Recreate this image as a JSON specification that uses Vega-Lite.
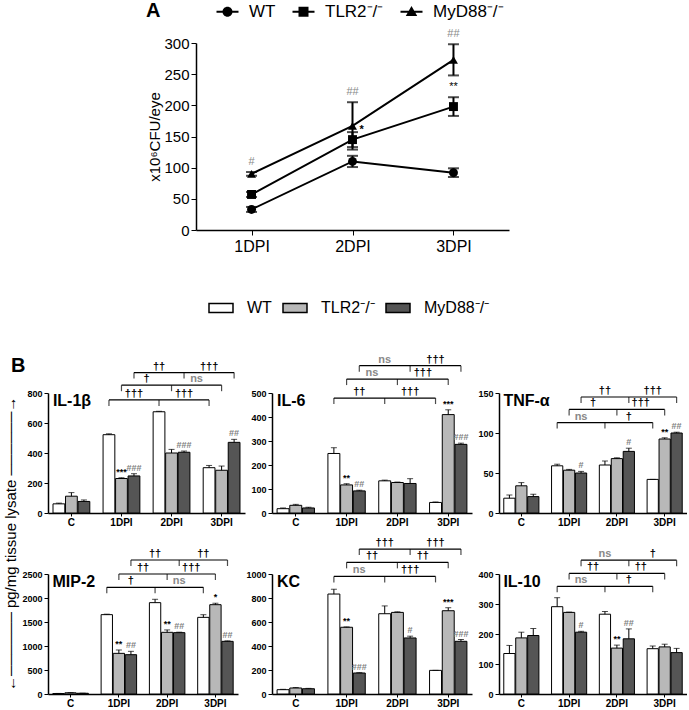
{
"$schema":"https://vega.github.io/schema/vega-lite/v6.json",
"padding":{"left":3,"top":3,"right":0,"bottom":0},
"config":{"font":"Liberation Sans","view":{"stroke":null},
 "axis":{"domainColor":"black","tickColor":"black","labelColor":"black","titleColor":"black","grid":false,"labelFontSize":9,"labelFontWeight":"bold","tickSize":4,"domainWidth":1.5,"labelPadding":2,"labelOverlap":false},
 "axisX":{"labelAngle":0,"labelFontSize":10,"tickSize":3,"labelPadding":1},
 "legend":{"labelColor":"black","padding":0},
 "title":{"color":"black"}},
"datasets":{
"ptA":[
{"d":"1DPI","g":"WT","v":33,"lo":29,"hi":37,"s":""},
{"d":"2DPI","g":"WT","v":110,"lo":101,"hi":119,"s":""},
{"d":"3DPI","g":"WT","v":92,"lo":85,"hi":99,"s":""},
{"d":"1DPI","g":"TLR2","v":57,"lo":53,"hi":61,"s":""},
{"d":"2DPI","g":"TLR2","v":145,"lo":133,"hi":157,"s":"*"},
{"d":"3DPI","g":"TLR2","v":198,"lo":183,"hi":213,"s":"**"},
{"d":"1DPI","g":"MyD88","v":90,"lo":87,"hi":93,"s":"#"},
{"d":"2DPI","g":"MyD88","v":167,"lo":129,"hi":205,"s":"##"},
{"d":"3DPI","g":"MyD88","v":273,"lo":248,"hi":298,"s":"##"}
],
"bars":[
{"p":"IL-1β","k":"C|WT","g":"WT","v":61,"hi":66,"s":""},
{"p":"IL-1β","k":"C|TLR2","g":"TLR2","v":112,"hi":136,"s":""},
{"p":"IL-1β","k":"C|MyD88","g":"MyD88","v":77,"hi":87,"s":""},
{"p":"IL-1β","k":"1DPI|WT","g":"WT","v":522,"hi":528,"s":""},
{"p":"IL-1β","k":"1DPI|TLR2","g":"TLR2","v":230,"hi":235,"s":"***"},
{"p":"IL-1β","k":"1DPI|MyD88","g":"MyD88","v":247,"hi":262,"s":"###"},
{"p":"IL-1β","k":"2DPI|WT","g":"WT","v":675,"hi":678,"s":""},
{"p":"IL-1β","k":"2DPI|TLR2","g":"TLR2","v":400,"hi":424,"s":""},
{"p":"IL-1β","k":"2DPI|MyD88","g":"MyD88","v":405,"hi":413,"s":"###"},
{"p":"IL-1β","k":"3DPI|WT","g":"WT","v":302,"hi":317,"s":""},
{"p":"IL-1β","k":"3DPI|TLR2","g":"TLR2","v":285,"hi":313,"s":""},
{"p":"IL-1β","k":"3DPI|MyD88","g":"MyD88","v":471,"hi":491,"s":"##"},
{"p":"IL-6","k":"C|WT","g":"WT","v":18,"hi":21,"s":""},
{"p":"IL-6","k":"C|TLR2","g":"TLR2","v":32,"hi":36,"s":""},
{"p":"IL-6","k":"C|MyD88","g":"MyD88","v":21,"hi":24,"s":""},
{"p":"IL-6","k":"1DPI|WT","g":"WT","v":248,"hi":272,"s":""},
{"p":"IL-6","k":"1DPI|TLR2","g":"TLR2","v":117,"hi":122,"s":"**"},
{"p":"IL-6","k":"1DPI|MyD88","g":"MyD88","v":92,"hi":95,"s":"##"},
{"p":"IL-6","k":"2DPI|WT","g":"WT","v":134,"hi":137,"s":""},
{"p":"IL-6","k":"2DPI|TLR2","g":"TLR2","v":127,"hi":129,"s":""},
{"p":"IL-6","k":"2DPI|MyD88","g":"MyD88","v":123,"hi":143,"s":""},
{"p":"IL-6","k":"3DPI|WT","g":"WT","v":44,"hi":46,"s":""},
{"p":"IL-6","k":"3DPI|TLR2","g":"TLR2","v":410,"hi":430,"s":"***"},
{"p":"IL-6","k":"3DPI|MyD88","g":"MyD88","v":286,"hi":291,"s":"###"},
{"p":"TNF-α","k":"C|WT","g":"WT","v":18.5,"hi":22.5,"s":""},
{"p":"TNF-α","k":"C|TLR2","g":"TLR2","v":34,"hi":38,"s":""},
{"p":"TNF-α","k":"C|MyD88","g":"MyD88","v":20.5,"hi":23.5,"s":""},
{"p":"TNF-α","k":"1DPI|WT","g":"WT","v":59,"hi":61,"s":""},
{"p":"TNF-α","k":"1DPI|TLR2","g":"TLR2","v":53.5,"hi":54.5,"s":""},
{"p":"TNF-α","k":"1DPI|MyD88","g":"MyD88","v":50,"hi":52,"s":"#"},
{"p":"TNF-α","k":"2DPI|WT","g":"WT","v":60,"hi":65,"s":""},
{"p":"TNF-α","k":"2DPI|TLR2","g":"TLR2","v":68,"hi":69,"s":""},
{"p":"TNF-α","k":"2DPI|MyD88","g":"MyD88","v":77,"hi":81,"s":"#"},
{"p":"TNF-α","k":"3DPI|WT","g":"WT","v":42,"hi":42,"s":""},
{"p":"TNF-α","k":"3DPI|TLR2","g":"TLR2","v":92.5,"hi":94,"s":"**"},
{"p":"TNF-α","k":"3DPI|MyD88","g":"MyD88","v":100,"hi":101,"s":"##"},
{"p":"MIP-2","k":"C|WT","g":"WT","v":10,"hi":12,"s":""},
{"p":"MIP-2","k":"C|TLR2","g":"TLR2","v":25,"hi":28,"s":""},
{"p":"MIP-2","k":"C|MyD88","g":"MyD88","v":15,"hi":17,"s":""},
{"p":"MIP-2","k":"1DPI|WT","g":"WT","v":1653,"hi":1663,"s":""},
{"p":"MIP-2","k":"1DPI|TLR2","g":"TLR2","v":847,"hi":917,"s":"**"},
{"p":"MIP-2","k":"1DPI|MyD88","g":"MyD88","v":819,"hi":889,"s":"##"},
{"p":"MIP-2","k":"2DPI|WT","g":"WT","v":1903,"hi":1973,"s":""},
{"p":"MIP-2","k":"2DPI|TLR2","g":"TLR2","v":1285,"hi":1335,"s":"**"},
{"p":"MIP-2","k":"2DPI|MyD88","g":"MyD88","v":1278,"hi":1288,"s":"##"},
{"p":"MIP-2","k":"3DPI|WT","g":"WT","v":1597,"hi":1652,"s":""},
{"p":"MIP-2","k":"3DPI|TLR2","g":"TLR2","v":1861,"hi":1891,"s":"*"},
{"p":"MIP-2","k":"3DPI|MyD88","g":"MyD88","v":1097,"hi":1107,"s":"##"},
{"p":"KC","k":"C|WT","g":"WT","v":36,"hi":39,"s":""},
{"p":"KC","k":"C|TLR2","g":"TLR2","v":50,"hi":54,"s":""},
{"p":"KC","k":"C|MyD88","g":"MyD88","v":44,"hi":47,"s":""},
{"p":"KC","k":"1DPI|WT","g":"WT","v":833,"hi":873,"s":""},
{"p":"KC","k":"1DPI|TLR2","g":"TLR2","v":556,"hi":559,"s":"**"},
{"p":"KC","k":"1DPI|MyD88","g":"MyD88","v":175,"hi":178,"s":"###"},
{"p":"KC","k":"2DPI|WT","g":"WT","v":669,"hi":734,"s":""},
{"p":"KC","k":"2DPI|TLR2","g":"TLR2","v":680,"hi":685,"s":""},
{"p":"KC","k":"2DPI|MyD88","g":"MyD88","v":467,"hi":482,"s":"#"},
{"p":"KC","k":"3DPI|WT","g":"WT","v":197,"hi":197,"s":""},
{"p":"KC","k":"3DPI|TLR2","g":"TLR2","v":694,"hi":719,"s":"***"},
{"p":"KC","k":"3DPI|MyD88","g":"MyD88","v":439,"hi":454,"s":"###"},
{"p":"IL-10","k":"C|WT","g":"WT","v":135,"hi":162,"s":""},
{"p":"IL-10","k":"C|TLR2","g":"TLR2","v":187,"hi":206,"s":""},
{"p":"IL-10","k":"C|MyD88","g":"MyD88","v":195,"hi":218,"s":""},
{"p":"IL-10","k":"1DPI|WT","g":"WT","v":291,"hi":321,"s":""},
{"p":"IL-10","k":"1DPI|TLR2","g":"TLR2","v":272,"hi":273,"s":""},
{"p":"IL-10","k":"1DPI|MyD88","g":"MyD88","v":206,"hi":209,"s":"#"},
{"p":"IL-10","k":"2DPI|WT","g":"WT","v":266,"hi":275,"s":""},
{"p":"IL-10","k":"2DPI|TLR2","g":"TLR2","v":153,"hi":163,"s":"**"},
{"p":"IL-10","k":"2DPI|MyD88","g":"MyD88","v":184,"hi":217,"s":"##"},
{"p":"IL-10","k":"3DPI|WT","g":"WT","v":151,"hi":160,"s":""},
{"p":"IL-10","k":"3DPI|TLR2","g":"TLR2","v":157,"hi":166,"s":""},
{"p":"IL-10","k":"3DPI|MyD88","g":"MyD88","v":138,"hi":152,"s":""}
],
"brk":[
{"p":"IL-1β","g":"WT","y":754,"a":"1DPI|WT","m":"2DPI|WT","b":"3DPI|WT","l":"†††","lx":"1DPI|MyD88","r":"†††","rx":"2DPI|MyD88"},
{"p":"IL-1β","g":"TLR2","y":852,"a":"1DPI|TLR2","m":"2DPI|TLR2","b":"3DPI|TLR2","l":"†","lx":"s2","r":"ns","rx":"s3"},
{"p":"IL-1β","g":"MyD88","y":936,"a":"1DPI|MyD88","m":"2DPI|MyD88","b":"3DPI|MyD88","l":"††","lx":"2DPI|WT","r":"†††","rx":"3DPI|WT"},
{"p":"IL-6","g":"WT","y":479,"a":"1DPI|WT","m":"2DPI|WT","b":"3DPI|WT","l":"††","lx":"1DPI|MyD88","r":"†††","rx":"2DPI|MyD88"},
{"p":"IL-6","g":"TLR2","y":558,"a":"1DPI|TLR2","m":"2DPI|TLR2","b":"3DPI|TLR2","l":"ns","lx":"s2","r":"†††","rx":"s3"},
{"p":"IL-6","g":"MyD88","y":614,"a":"1DPI|MyD88","m":"2DPI|MyD88","b":"3DPI|MyD88","l":"ns","lx":"2DPI|WT","r":"†††","rx":"3DPI|WT"},
{"p":"TNF-α","g":"WT","y":113,"a":"1DPI|WT","m":"2DPI|WT","b":"3DPI|WT","l":"ns","lx":"1DPI|MyD88","r":"†","rx":"2DPI|MyD88"},
{"p":"TNF-α","g":"TLR2","y":129.5,"a":"1DPI|TLR2","m":"2DPI|TLR2","b":"3DPI|TLR2","l":"†","lx":"s2","r":"†††","rx":"s3"},
{"p":"TNF-α","g":"MyD88","y":145,"a":"1DPI|MyD88","m":"2DPI|MyD88","b":"3DPI|MyD88","l":"††","lx":"2DPI|WT","r":"†††","rx":"3DPI|WT"},
{"p":"MIP-2","g":"WT","y":2222,"a":"1DPI|WT","m":"2DPI|WT","b":"3DPI|WT","l":"†","lx":"1DPI|MyD88","r":"ns","rx":"2DPI|MyD88"},
{"p":"MIP-2","g":"TLR2","y":2500,"a":"1DPI|TLR2","m":"2DPI|TLR2","b":"3DPI|TLR2","l":"††","lx":"s2","r":"†††","rx":"s3"},
{"p":"MIP-2","g":"MyD88","y":2792,"a":"1DPI|MyD88","m":"2DPI|MyD88","b":"3DPI|MyD88","l":"††","lx":"2DPI|WT","r":"††","rx":"3DPI|WT"},
{"p":"KC","g":"WT","y":980,"a":"1DPI|WT","m":"2DPI|WT","b":"3DPI|WT","l":"ns","lx":"1DPI|MyD88","r":"†††","rx":"2DPI|MyD88"},
{"p":"KC","g":"TLR2","y":1097,"a":"1DPI|TLR2","m":"2DPI|TLR2","b":"3DPI|TLR2","l":"††","lx":"s2","r":"††","rx":"s3"},
{"p":"KC","g":"MyD88","y":1208,"a":"1DPI|MyD88","m":"2DPI|MyD88","b":"3DPI|MyD88","l":"†††","lx":"2DPI|WT","r":"†††","rx":"3DPI|WT"},
{"p":"IL-10","g":"WT","y":359,"a":"1DPI|WT","m":"2DPI|WT","b":"3DPI|WT","l":"ns","lx":"1DPI|MyD88","r":"†","rx":"2DPI|MyD88"},
{"p":"IL-10","g":"TLR2","y":402,"a":"1DPI|TLR2","m":"2DPI|TLR2","b":"3DPI|TLR2","l":"††","lx":"s2","r":"††","rx":"s3"},
{"p":"IL-10","g":"MyD88","y":446,"a":"1DPI|MyD88","m":"2DPI|MyD88","b":"3DPI|MyD88","l":"ns","lx":"2DPI|WT","r":"†","rx":"3DPI|WT"}
]
},
"resolve":{"scale":{"fill":"independent","shape":"independent"},"legend":{"fill":"independent","shape":"independent"}},
"spacing":43,
"vconcat":[
{"hconcat":[
{"width":98,"height":10,"data":{"values":[]},"mark":{"type":"rule","opacity":0},"encoding":{}},
{
"width":313,"height":187,
"data":{"name":"ptA"},
"resolve":{"scale":{"shape":"independent"},"legend":{"shape":"independent"}},
"layer":[
 {"mark":{"type":"line","color":"black","strokeWidth":2},
  "encoding":{
   "x":{"field":"d","type":"ordinal","scale":{"type":"point","padding":0.55,"domain":["1DPI","2DPI","3DPI"]},"title":null,"axis":{"labelFontSize":16,"labelFontWeight":"normal","tickSize":5,"labelPadding":3}},
   "y":{"field":"v","type":"quantitative","scale":{"domain":[0,300],"nice":false},"title":"x10⁶CFU/eye","axis":{"values":[0,50,100,150,200,250,300],"tickCount":20,"labelOverlap":false,"labelFontSize":15,"labelFontWeight":"normal","tickSize":5,"labelPadding":2,"titleFontSize":15,"titleFontWeight":"normal","titlePadding":1}},
   "detail":{"field":"g"}}},
 {"mark":{"type":"rule","color":"black","strokeWidth":2},
  "encoding":{
   "x":{"field":"d","type":"ordinal","scale":{"type":"point","padding":0.55,"domain":["1DPI","2DPI","3DPI"]},"title":null},
   "y":{"field":"lo","type":"quantitative","scale":{"domain":[0,300],"nice":false},"title":"x10⁶CFU/eye"},
   "y2":{"field":"hi"}}},
 {"transform":[{"fold":["lo","hi"],"as":["c","cv"]}],
  "mark":{"type":"tick","color":"black","size":11,"thickness":2,"orient":"horizontal"},
  "encoding":{
   "x":{"field":"d","type":"ordinal","scale":{"type":"point","padding":0.55,"domain":["1DPI","2DPI","3DPI"]},"title":null},
   "y":{"field":"cv","type":"quantitative","scale":{"domain":[0,300],"nice":false},"title":"x10⁶CFU/eye"}}},
 {"mark":{"type":"point","filled":true,"color":"black","opacity":1,"size":80},
  "encoding":{
   "x":{"field":"d","type":"ordinal","scale":{"type":"point","padding":0.55,"domain":["1DPI","2DPI","3DPI"]},"title":null},
   "y":{"field":"v","type":"quantitative","scale":{"domain":[0,300],"nice":false},"title":"x10⁶CFU/eye"},
   "shape":{"field":"g","type":"nominal","scale":{"domain":["WT","TLR2","MyD88"],"range":["circle","square","triangle-up"]},"legend":null}}},
 {"mark":{"type":"point","filled":true,"color":"black","opacity":0,"size":10},
  "encoding":{
   "x":{"field":"d","type":"ordinal","scale":{"type":"point","padding":0.55,"domain":["1DPI","2DPI","3DPI"]},"title":null},
   "y":{"field":"v","type":"quantitative","scale":{"domain":[0,300],"nice":false},"title":"x10⁶CFU/eye"},
   "shape":{"field":"g","type":"nominal","scale":{"domain":["WT","TLR2","MyD88"],"range":["M-2.2,-0.2H2.2V0.2H-2.2ZM1,0A1,1,0,1,1,-1,0A1,1,0,1,1,1,0Z","M-2.2,-0.2H2.2V0.2H-2.2ZM-1,-1H1V1H-1Z","M-2.2,-0.2H2.2V0.2H-2.2ZM0,-1.15L1.15,0.85H-1.15Z"]},
    "legend":{"orient":"none","legendX":-50,"legendY":-40,"direction":"horizontal","title":"A","titleOrient":"left","titleFontSize":20,"titleFontWeight":"bold","titlePadding":58,"labelFontSize":17,"symbolSize":100,"symbolOpacity":1,"symbolFillColor":"black","symbolStrokeWidth":0,"labelOffset":13,"columnPadding":16,
     "labelExpr":"datum.label=='WT'?'WT':datum.label+'⁻/⁻'"}}}},
 {"transform":[{"filter":"datum.s!='' && !(datum.g=='TLR2' && datum.d=='2DPI')"}],
  "mark":{"type":"text","baseline":"bottom","dy":-5,"fontSize":11,"opacity":0.99},
  "encoding":{
   "x":{"field":"d","type":"ordinal","scale":{"type":"point","padding":0.55,"domain":["1DPI","2DPI","3DPI"]},"title":null},
   "y":{"field":"hi","type":"quantitative","scale":{"domain":[0,300],"nice":false},"title":"x10⁶CFU/eye"},
   "text":{"field":"s"},
   "color":{"condition":{"test":"indexof(datum.s,'#')>=0","value":"#888888"},"value":"black"}}},
 {"transform":[{"filter":"datum.g=='TLR2' && datum.d=='2DPI'"}],
  "mark":{"type":"text","align":"left","baseline":"middle","dx":7,"dy":-2,"fontSize":11,"fontWeight":"bold"},
  "encoding":{
   "x":{"field":"d","type":"ordinal","scale":{"type":"point","padding":0.55,"domain":["1DPI","2DPI","3DPI"]},"title":null},
   "y":{"field":"hi","type":"quantitative","scale":{"domain":[0,300],"nice":false},"title":"x10⁶CFU/eye"},
   "text":{"field":"s"}}}
]
}],
"spacing":0,
"resolve":{"legend":{"shape":"independent"},"scale":{"shape":"independent"}}
},
{
"title":{"text":"←────── pg/mg tissue lysate ──────→","orient":"left","fontSize":15,"fontWeight":"normal","offset":-8,"dx":17},
"resolve":{"scale":{"fill":"shared"},"legend":{"fill":"shared"}},
"vconcat":[
{
"title":{"text":"B","orient":"top","anchor":"start","fontSize":20,"fontWeight":"bold","offset":-22,"dx":-11},
"columns":3,"bounds":"flush","spacing":{"row":61,"column":27},
"resolve":{"scale":{"fill":"shared"},"legend":{"fill":"shared"}},
"concat":[
{"width":197,"height":120,"layer":[
 {"data":{"name":"bars"},"transform":[{"filter":"datum.p=='IL-1β'"}],"layer":[
  {"mark":{"type":"bar","stroke":"black","strokeWidth":1},"encoding":{
   "x":{"field":"k","type":"nominal","title":null,"scale":{"domain":["C|WT","C|TLR2","C|MyD88","s1","1DPI|WT","1DPI|TLR2","1DPI|MyD88","s2","2DPI|WT","2DPI|TLR2","2DPI|MyD88","s3","3DPI|WT","3DPI|TLR2","3DPI|MyD88"],"paddingInner":0.06,"paddingOuter":0.4},"axis":{"values":["C|TLR2","1DPI|TLR2","2DPI|TLR2","3DPI|TLR2"],"labelExpr":"split(datum.value,'|')[0]"}},
   "y":{"field":"v","type":"quantitative","title":null,"scale":{"domain":[0,800],"nice":false},"axis":{"values":[0,200,400,600,800],"tickCount":20,"labelOverlap":false}},
   "fill":{"field":"g","type":"nominal","scale":{"domain":["WT","TLR2","MyD88"],"range":["#ffffff","#b8b8b8","#555555"]},
    "legend":{"orient":"none","legendX":162,"legendY":-96,"direction":"horizontal","title":null,"symbolType":"M-1.2,-0.45H1.2V0.45H-1.2Z","symbolSize":400,"symbolStrokeColor":"black","symbolStrokeWidth":1.5,"labelFontSize":16,"labelOffset":15,"columnPadding":8,"labelExpr":"datum.label=='WT'?'WT':datum.label+'⁻/⁻'"}}}},
  {"mark":{"type":"rule","color":"black","strokeWidth":1},"encoding":{
   "x":{"field":"k","type":"nominal","title":null,"scale":{"domain":["C|WT","C|TLR2","C|MyD88","s1","1DPI|WT","1DPI|TLR2","1DPI|MyD88","s2","2DPI|WT","2DPI|TLR2","2DPI|MyD88","s3","3DPI|WT","3DPI|TLR2","3DPI|MyD88"],"paddingInner":0.06,"paddingOuter":0.4}},
   "y":{"field":"v","type":"quantitative","title":null,"scale":{"domain":[0,800],"nice":false}},"y2":{"field":"hi"}}},
  {"mark":{"type":"tick","color":"black","size":6,"thickness":1,"orient":"horizontal"},"encoding":{
   "x":{"field":"k","type":"nominal","title":null,"scale":{"domain":["C|WT","C|TLR2","C|MyD88","s1","1DPI|WT","1DPI|TLR2","1DPI|MyD88","s2","2DPI|WT","2DPI|TLR2","2DPI|MyD88","s3","3DPI|WT","3DPI|TLR2","3DPI|MyD88"],"paddingInner":0.06,"paddingOuter":0.4}},
   "y":{"field":"hi","type":"quantitative","title":null,"scale":{"domain":[0,800],"nice":false}}}},
  {"transform":[{"filter":"datum.s!=''"}],"mark":{"type":"text","baseline":"bottom","dy":-1,"fontSize":9,"fontWeight":"bold","opacity":0.99},"encoding":{
   "x":{"field":"k","type":"nominal","title":null,"scale":{"domain":["C|WT","C|TLR2","C|MyD88","s1","1DPI|WT","1DPI|TLR2","1DPI|MyD88","s2","2DPI|WT","2DPI|TLR2","2DPI|MyD88","s3","3DPI|WT","3DPI|TLR2","3DPI|MyD88"],"paddingInner":0.06,"paddingOuter":0.4}},
   "y":{"field":"hi","type":"quantitative","title":null,"scale":{"domain":[0,800],"nice":false}},
   "text":{"field":"s"},"color":{"condition":{"test":"indexof(datum.s,'#')>=0","value":"#808080"},"value":"black"}}}
 ]},
 {"data":{"name":"brk"},"transform":[{"filter":"datum.p=='IL-1β'"}],"layer":[
  {"mark":{"type":"rule","color":"black","strokeWidth":1.2},"encoding":{
   "x":{"field":"a","type":"nominal","title":null,"scale":{"domain":["C|WT","C|TLR2","C|MyD88","s1","1DPI|WT","1DPI|TLR2","1DPI|MyD88","s2","2DPI|WT","2DPI|TLR2","2DPI|MyD88","s3","3DPI|WT","3DPI|TLR2","3DPI|MyD88"],"paddingInner":0.06,"paddingOuter":0.4}},"x2":{"field":"b"},
   "y":{"field":"y","type":"quantitative","title":null,"scale":{"domain":[0,800],"nice":false}}}},
  {"transform":[{"fold":["a","m","b"]}],"mark":{"type":"tick","color":"black","orient":"vertical","size":6,"thickness":1.2,"yOffset":3},"encoding":{
   "x":{"field":"value","type":"nominal","title":null,"scale":{"domain":["C|WT","C|TLR2","C|MyD88","s1","1DPI|WT","1DPI|TLR2","1DPI|MyD88","s2","2DPI|WT","2DPI|TLR2","2DPI|MyD88","s3","3DPI|WT","3DPI|TLR2","3DPI|MyD88"],"paddingInner":0.06,"paddingOuter":0.4}},
   "y":{"field":"y","type":"quantitative","title":null,"scale":{"domain":[0,800],"nice":false}}}},
  {"mark":{"type":"text","baseline":"bottom","dy":-1,"fontSize":11,"fontWeight":"bold","opacity":0.99},"encoding":{
   "x":{"field":"lx","type":"nominal","title":null,"scale":{"domain":["C|WT","C|TLR2","C|MyD88","s1","1DPI|WT","1DPI|TLR2","1DPI|MyD88","s2","2DPI|WT","2DPI|TLR2","2DPI|MyD88","s3","3DPI|WT","3DPI|TLR2","3DPI|MyD88"],"paddingInner":0.06,"paddingOuter":0.4}},
   "y":{"field":"y","type":"quantitative","title":null,"scale":{"domain":[0,800],"nice":false}},
   "text":{"field":"l"},"color":{"condition":{"test":"datum.l=='ns'","value":"#888888"},"value":"black"}}},
  {"mark":{"type":"text","baseline":"bottom","dy":-1,"fontSize":11,"fontWeight":"bold","opacity":0.99},"encoding":{
   "x":{"field":"rx","type":"nominal","title":null,"scale":{"domain":["C|WT","C|TLR2","C|MyD88","s1","1DPI|WT","1DPI|TLR2","1DPI|MyD88","s2","2DPI|WT","2DPI|TLR2","2DPI|MyD88","s3","3DPI|WT","3DPI|TLR2","3DPI|MyD88"],"paddingInner":0.06,"paddingOuter":0.4}},
   "y":{"field":"y","type":"quantitative","title":null,"scale":{"domain":[0,800],"nice":false}},
   "text":{"field":"r"},"color":{"condition":{"test":"datum.r=='ns'","value":"#888888"},"value":"black"}}}
 ]},
 {"data":{"values":[{"n":"IL-1β"}]},"mark":{"type":"text","align":"left","baseline":"top","fontSize":16,"fontWeight":"bold","dx":-6},"encoding":{
   "x":{"datum":"C|WT","type":"nominal","title":null,"scale":{"domain":["C|WT","C|TLR2","C|MyD88","s1","1DPI|WT","1DPI|TLR2","1DPI|MyD88","s2","2DPI|WT","2DPI|TLR2","2DPI|MyD88","s3","3DPI|WT","3DPI|TLR2","3DPI|MyD88"],"paddingInner":0.06,"paddingOuter":0.4}},
   "y":{"datum":800,"type":"quantitative","title":null,"scale":{"domain":[0,800],"nice":false}},
   "text":{"field":"n"}}}
]},
{"width":200,"height":120,"layer":[
 {"data":{"name":"bars"},"transform":[{"filter":"datum.p=='IL-6'"}],"layer":[
  {"mark":{"type":"bar","stroke":"black","strokeWidth":1},"encoding":{
   "x":{"field":"k","type":"nominal","title":null,"scale":{"domain":["C|WT","C|TLR2","C|MyD88","s1","1DPI|WT","1DPI|TLR2","1DPI|MyD88","s2","2DPI|WT","2DPI|TLR2","2DPI|MyD88","s3","3DPI|WT","3DPI|TLR2","3DPI|MyD88"],"paddingInner":0.06,"paddingOuter":0.4},"axis":{"values":["C|TLR2","1DPI|TLR2","2DPI|TLR2","3DPI|TLR2"],"labelExpr":"split(datum.value,'|')[0]"}},
   "y":{"field":"v","type":"quantitative","title":null,"scale":{"domain":[0,500],"nice":false},"axis":{"values":[0,100,200,300,400,500],"tickCount":20,"labelOverlap":false}},
   "fill":{"field":"g","type":"nominal","scale":{"domain":["WT","TLR2","MyD88"],"range":["#ffffff","#b8b8b8","#555555"]}}}},
  {"mark":{"type":"rule","color":"black","strokeWidth":1},"encoding":{
   "x":{"field":"k","type":"nominal","title":null,"scale":{"domain":["C|WT","C|TLR2","C|MyD88","s1","1DPI|WT","1DPI|TLR2","1DPI|MyD88","s2","2DPI|WT","2DPI|TLR2","2DPI|MyD88","s3","3DPI|WT","3DPI|TLR2","3DPI|MyD88"],"paddingInner":0.06,"paddingOuter":0.4}},
   "y":{"field":"v","type":"quantitative","title":null,"scale":{"domain":[0,500],"nice":false}},"y2":{"field":"hi"}}},
  {"mark":{"type":"tick","color":"black","size":6,"thickness":1,"orient":"horizontal"},"encoding":{
   "x":{"field":"k","type":"nominal","title":null,"scale":{"domain":["C|WT","C|TLR2","C|MyD88","s1","1DPI|WT","1DPI|TLR2","1DPI|MyD88","s2","2DPI|WT","2DPI|TLR2","2DPI|MyD88","s3","3DPI|WT","3DPI|TLR2","3DPI|MyD88"],"paddingInner":0.06,"paddingOuter":0.4}},
   "y":{"field":"hi","type":"quantitative","title":null,"scale":{"domain":[0,500],"nice":false}}}},
  {"transform":[{"filter":"datum.s!=''"}],"mark":{"type":"text","baseline":"bottom","dy":-1,"fontSize":9,"fontWeight":"bold","opacity":0.99},"encoding":{
   "x":{"field":"k","type":"nominal","title":null,"scale":{"domain":["C|WT","C|TLR2","C|MyD88","s1","1DPI|WT","1DPI|TLR2","1DPI|MyD88","s2","2DPI|WT","2DPI|TLR2","2DPI|MyD88","s3","3DPI|WT","3DPI|TLR2","3DPI|MyD88"],"paddingInner":0.06,"paddingOuter":0.4}},
   "y":{"field":"hi","type":"quantitative","title":null,"scale":{"domain":[0,500],"nice":false}},
   "text":{"field":"s"},"color":{"condition":{"test":"indexof(datum.s,'#')>=0","value":"#808080"},"value":"black"}}}
 ]},
 {"data":{"name":"brk"},"transform":[{"filter":"datum.p=='IL-6'"}],"layer":[
  {"mark":{"type":"rule","color":"black","strokeWidth":1.2},"encoding":{
   "x":{"field":"a","type":"nominal","title":null,"scale":{"domain":["C|WT","C|TLR2","C|MyD88","s1","1DPI|WT","1DPI|TLR2","1DPI|MyD88","s2","2DPI|WT","2DPI|TLR2","2DPI|MyD88","s3","3DPI|WT","3DPI|TLR2","3DPI|MyD88"],"paddingInner":0.06,"paddingOuter":0.4}},"x2":{"field":"b"},
   "y":{"field":"y","type":"quantitative","title":null,"scale":{"domain":[0,500],"nice":false}}}},
  {"transform":[{"fold":["a","m","b"]}],"mark":{"type":"tick","color":"black","orient":"vertical","size":6,"thickness":1.2,"yOffset":3},"encoding":{
   "x":{"field":"value","type":"nominal","title":null,"scale":{"domain":["C|WT","C|TLR2","C|MyD88","s1","1DPI|WT","1DPI|TLR2","1DPI|MyD88","s2","2DPI|WT","2DPI|TLR2","2DPI|MyD88","s3","3DPI|WT","3DPI|TLR2","3DPI|MyD88"],"paddingInner":0.06,"paddingOuter":0.4}},
   "y":{"field":"y","type":"quantitative","title":null,"scale":{"domain":[0,500],"nice":false}}}},
  {"mark":{"type":"text","baseline":"bottom","dy":-1,"fontSize":11,"fontWeight":"bold","opacity":0.99},"encoding":{
   "x":{"field":"lx","type":"nominal","title":null,"scale":{"domain":["C|WT","C|TLR2","C|MyD88","s1","1DPI|WT","1DPI|TLR2","1DPI|MyD88","s2","2DPI|WT","2DPI|TLR2","2DPI|MyD88","s3","3DPI|WT","3DPI|TLR2","3DPI|MyD88"],"paddingInner":0.06,"paddingOuter":0.4}},
   "y":{"field":"y","type":"quantitative","title":null,"scale":{"domain":[0,500],"nice":false}},
   "text":{"field":"l"},"color":{"condition":{"test":"datum.l=='ns'","value":"#888888"},"value":"black"}}},
  {"mark":{"type":"text","baseline":"bottom","dy":-1,"fontSize":11,"fontWeight":"bold","opacity":0.99},"encoding":{
   "x":{"field":"rx","type":"nominal","title":null,"scale":{"domain":["C|WT","C|TLR2","C|MyD88","s1","1DPI|WT","1DPI|TLR2","1DPI|MyD88","s2","2DPI|WT","2DPI|TLR2","2DPI|MyD88","s3","3DPI|WT","3DPI|TLR2","3DPI|MyD88"],"paddingInner":0.06,"paddingOuter":0.4}},
   "y":{"field":"y","type":"quantitative","title":null,"scale":{"domain":[0,500],"nice":false}},
   "text":{"field":"r"},"color":{"condition":{"test":"datum.r=='ns'","value":"#888888"},"value":"black"}}}
 ]},
 {"data":{"values":[{"n":"IL-6"}]},"mark":{"type":"text","align":"left","baseline":"top","fontSize":16,"fontWeight":"bold","dx":-6},"encoding":{
   "x":{"datum":"C|WT","type":"nominal","title":null,"scale":{"domain":["C|WT","C|TLR2","C|MyD88","s1","1DPI|WT","1DPI|TLR2","1DPI|MyD88","s2","2DPI|WT","2DPI|TLR2","2DPI|MyD88","s3","3DPI|WT","3DPI|TLR2","3DPI|MyD88"],"paddingInner":0.06,"paddingOuter":0.4}},
   "y":{"datum":500,"type":"quantitative","title":null,"scale":{"domain":[0,500],"nice":false}},
   "text":{"field":"n"}}}
]},
{"width":188,"height":120,"layer":[
 {"data":{"name":"bars"},"transform":[{"filter":"datum.p=='TNF-α'"}],"layer":[
  {"mark":{"type":"bar","stroke":"black","strokeWidth":1},"encoding":{
   "x":{"field":"k","type":"nominal","title":null,"scale":{"domain":["C|WT","C|TLR2","C|MyD88","s1","1DPI|WT","1DPI|TLR2","1DPI|MyD88","s2","2DPI|WT","2DPI|TLR2","2DPI|MyD88","s3","3DPI|WT","3DPI|TLR2","3DPI|MyD88"],"paddingInner":0.06,"paddingOuter":0.4},"axis":{"values":["C|TLR2","1DPI|TLR2","2DPI|TLR2","3DPI|TLR2"],"labelExpr":"split(datum.value,'|')[0]"}},
   "y":{"field":"v","type":"quantitative","title":null,"scale":{"domain":[0,150],"nice":false},"axis":{"values":[0,50,100,150],"tickCount":20,"labelOverlap":false}},
   "fill":{"field":"g","type":"nominal","scale":{"domain":["WT","TLR2","MyD88"],"range":["#ffffff","#b8b8b8","#555555"]}}}},
  {"mark":{"type":"rule","color":"black","strokeWidth":1},"encoding":{
   "x":{"field":"k","type":"nominal","title":null,"scale":{"domain":["C|WT","C|TLR2","C|MyD88","s1","1DPI|WT","1DPI|TLR2","1DPI|MyD88","s2","2DPI|WT","2DPI|TLR2","2DPI|MyD88","s3","3DPI|WT","3DPI|TLR2","3DPI|MyD88"],"paddingInner":0.06,"paddingOuter":0.4}},
   "y":{"field":"v","type":"quantitative","title":null,"scale":{"domain":[0,150],"nice":false}},"y2":{"field":"hi"}}},
  {"mark":{"type":"tick","color":"black","size":6,"thickness":1,"orient":"horizontal"},"encoding":{
   "x":{"field":"k","type":"nominal","title":null,"scale":{"domain":["C|WT","C|TLR2","C|MyD88","s1","1DPI|WT","1DPI|TLR2","1DPI|MyD88","s2","2DPI|WT","2DPI|TLR2","2DPI|MyD88","s3","3DPI|WT","3DPI|TLR2","3DPI|MyD88"],"paddingInner":0.06,"paddingOuter":0.4}},
   "y":{"field":"hi","type":"quantitative","title":null,"scale":{"domain":[0,150],"nice":false}}}},
  {"transform":[{"filter":"datum.s!=''"}],"mark":{"type":"text","baseline":"bottom","dy":-1,"fontSize":9,"fontWeight":"bold","opacity":0.99},"encoding":{
   "x":{"field":"k","type":"nominal","title":null,"scale":{"domain":["C|WT","C|TLR2","C|MyD88","s1","1DPI|WT","1DPI|TLR2","1DPI|MyD88","s2","2DPI|WT","2DPI|TLR2","2DPI|MyD88","s3","3DPI|WT","3DPI|TLR2","3DPI|MyD88"],"paddingInner":0.06,"paddingOuter":0.4}},
   "y":{"field":"hi","type":"quantitative","title":null,"scale":{"domain":[0,150],"nice":false}},
   "text":{"field":"s"},"color":{"condition":{"test":"indexof(datum.s,'#')>=0","value":"#808080"},"value":"black"}}}
 ]},
 {"data":{"name":"brk"},"transform":[{"filter":"datum.p=='TNF-α'"}],"layer":[
  {"mark":{"type":"rule","color":"black","strokeWidth":1.2},"encoding":{
   "x":{"field":"a","type":"nominal","title":null,"scale":{"domain":["C|WT","C|TLR2","C|MyD88","s1","1DPI|WT","1DPI|TLR2","1DPI|MyD88","s2","2DPI|WT","2DPI|TLR2","2DPI|MyD88","s3","3DPI|WT","3DPI|TLR2","3DPI|MyD88"],"paddingInner":0.06,"paddingOuter":0.4}},"x2":{"field":"b"},
   "y":{"field":"y","type":"quantitative","title":null,"scale":{"domain":[0,150],"nice":false}}}},
  {"transform":[{"fold":["a","m","b"]}],"mark":{"type":"tick","color":"black","orient":"vertical","size":6,"thickness":1.2,"yOffset":3},"encoding":{
   "x":{"field":"value","type":"nominal","title":null,"scale":{"domain":["C|WT","C|TLR2","C|MyD88","s1","1DPI|WT","1DPI|TLR2","1DPI|MyD88","s2","2DPI|WT","2DPI|TLR2","2DPI|MyD88","s3","3DPI|WT","3DPI|TLR2","3DPI|MyD88"],"paddingInner":0.06,"paddingOuter":0.4}},
   "y":{"field":"y","type":"quantitative","title":null,"scale":{"domain":[0,150],"nice":false}}}},
  {"mark":{"type":"text","baseline":"bottom","dy":-1,"fontSize":11,"fontWeight":"bold","opacity":0.99},"encoding":{
   "x":{"field":"lx","type":"nominal","title":null,"scale":{"domain":["C|WT","C|TLR2","C|MyD88","s1","1DPI|WT","1DPI|TLR2","1DPI|MyD88","s2","2DPI|WT","2DPI|TLR2","2DPI|MyD88","s3","3DPI|WT","3DPI|TLR2","3DPI|MyD88"],"paddingInner":0.06,"paddingOuter":0.4}},
   "y":{"field":"y","type":"quantitative","title":null,"scale":{"domain":[0,150],"nice":false}},
   "text":{"field":"l"},"color":{"condition":{"test":"datum.l=='ns'","value":"#888888"},"value":"black"}}},
  {"mark":{"type":"text","baseline":"bottom","dy":-1,"fontSize":11,"fontWeight":"bold","opacity":0.99},"encoding":{
   "x":{"field":"rx","type":"nominal","title":null,"scale":{"domain":["C|WT","C|TLR2","C|MyD88","s1","1DPI|WT","1DPI|TLR2","1DPI|MyD88","s2","2DPI|WT","2DPI|TLR2","2DPI|MyD88","s3","3DPI|WT","3DPI|TLR2","3DPI|MyD88"],"paddingInner":0.06,"paddingOuter":0.4}},
   "y":{"field":"y","type":"quantitative","title":null,"scale":{"domain":[0,150],"nice":false}},
   "text":{"field":"r"},"color":{"condition":{"test":"datum.r=='ns'","value":"#888888"},"value":"black"}}}
 ]},
 {"data":{"values":[{"n":"TNF-α"}]},"mark":{"type":"text","align":"left","baseline":"top","fontSize":16,"fontWeight":"bold","dx":-6},"encoding":{
   "x":{"datum":"C|WT","type":"nominal","title":null,"scale":{"domain":["C|WT","C|TLR2","C|MyD88","s1","1DPI|WT","1DPI|TLR2","1DPI|MyD88","s2","2DPI|WT","2DPI|TLR2","2DPI|MyD88","s3","3DPI|WT","3DPI|TLR2","3DPI|MyD88"],"paddingInner":0.06,"paddingOuter":0.4}},
   "y":{"datum":150,"type":"quantitative","title":null,"scale":{"domain":[0,150],"nice":false}},
   "text":{"field":"n"}}}
]},
{"width":190,"height":120,"layer":[
 {"data":{"name":"bars"},"transform":[{"filter":"datum.p=='MIP-2'"}],"layer":[
  {"mark":{"type":"bar","stroke":"black","strokeWidth":1},"encoding":{
   "x":{"field":"k","type":"nominal","title":null,"scale":{"domain":["C|WT","C|TLR2","C|MyD88","s1","1DPI|WT","1DPI|TLR2","1DPI|MyD88","s2","2DPI|WT","2DPI|TLR2","2DPI|MyD88","s3","3DPI|WT","3DPI|TLR2","3DPI|MyD88"],"paddingInner":0.06,"paddingOuter":0.4},"axis":{"values":["C|TLR2","1DPI|TLR2","2DPI|TLR2","3DPI|TLR2"],"labelExpr":"split(datum.value,'|')[0]"}},
   "y":{"field":"v","type":"quantitative","title":null,"scale":{"domain":[0,2500],"nice":false},"axis":{"values":[0,500,1000,1500,2000,2500],"tickCount":20,"format":"d","labelOverlap":false}},
   "fill":{"field":"g","type":"nominal","scale":{"domain":["WT","TLR2","MyD88"],"range":["#ffffff","#b8b8b8","#555555"]}}}},
  {"mark":{"type":"rule","color":"black","strokeWidth":1},"encoding":{
   "x":{"field":"k","type":"nominal","title":null,"scale":{"domain":["C|WT","C|TLR2","C|MyD88","s1","1DPI|WT","1DPI|TLR2","1DPI|MyD88","s2","2DPI|WT","2DPI|TLR2","2DPI|MyD88","s3","3DPI|WT","3DPI|TLR2","3DPI|MyD88"],"paddingInner":0.06,"paddingOuter":0.4}},
   "y":{"field":"v","type":"quantitative","title":null,"scale":{"domain":[0,2500],"nice":false}},"y2":{"field":"hi"}}},
  {"mark":{"type":"tick","color":"black","size":6,"thickness":1,"orient":"horizontal"},"encoding":{
   "x":{"field":"k","type":"nominal","title":null,"scale":{"domain":["C|WT","C|TLR2","C|MyD88","s1","1DPI|WT","1DPI|TLR2","1DPI|MyD88","s2","2DPI|WT","2DPI|TLR2","2DPI|MyD88","s3","3DPI|WT","3DPI|TLR2","3DPI|MyD88"],"paddingInner":0.06,"paddingOuter":0.4}},
   "y":{"field":"hi","type":"quantitative","title":null,"scale":{"domain":[0,2500],"nice":false}}}},
  {"transform":[{"filter":"datum.s!=''"}],"mark":{"type":"text","baseline":"bottom","dy":-1,"fontSize":9,"fontWeight":"bold","opacity":0.99},"encoding":{
   "x":{"field":"k","type":"nominal","title":null,"scale":{"domain":["C|WT","C|TLR2","C|MyD88","s1","1DPI|WT","1DPI|TLR2","1DPI|MyD88","s2","2DPI|WT","2DPI|TLR2","2DPI|MyD88","s3","3DPI|WT","3DPI|TLR2","3DPI|MyD88"],"paddingInner":0.06,"paddingOuter":0.4}},
   "y":{"field":"hi","type":"quantitative","title":null,"scale":{"domain":[0,2500],"nice":false}},
   "text":{"field":"s"},"color":{"condition":{"test":"indexof(datum.s,'#')>=0","value":"#808080"},"value":"black"}}}
 ]},
 {"data":{"name":"brk"},"transform":[{"filter":"datum.p=='MIP-2'"}],"layer":[
  {"mark":{"type":"rule","color":"black","strokeWidth":1.2},"encoding":{
   "x":{"field":"a","type":"nominal","title":null,"scale":{"domain":["C|WT","C|TLR2","C|MyD88","s1","1DPI|WT","1DPI|TLR2","1DPI|MyD88","s2","2DPI|WT","2DPI|TLR2","2DPI|MyD88","s3","3DPI|WT","3DPI|TLR2","3DPI|MyD88"],"paddingInner":0.06,"paddingOuter":0.4}},"x2":{"field":"b"},
   "y":{"field":"y","type":"quantitative","title":null,"scale":{"domain":[0,2500],"nice":false}}}},
  {"transform":[{"fold":["a","m","b"]}],"mark":{"type":"tick","color":"black","orient":"vertical","size":6,"thickness":1.2,"yOffset":3},"encoding":{
   "x":{"field":"value","type":"nominal","title":null,"scale":{"domain":["C|WT","C|TLR2","C|MyD88","s1","1DPI|WT","1DPI|TLR2","1DPI|MyD88","s2","2DPI|WT","2DPI|TLR2","2DPI|MyD88","s3","3DPI|WT","3DPI|TLR2","3DPI|MyD88"],"paddingInner":0.06,"paddingOuter":0.4}},
   "y":{"field":"y","type":"quantitative","title":null,"scale":{"domain":[0,2500],"nice":false}}}},
  {"mark":{"type":"text","baseline":"bottom","dy":-1,"fontSize":11,"fontWeight":"bold","opacity":0.99},"encoding":{
   "x":{"field":"lx","type":"nominal","title":null,"scale":{"domain":["C|WT","C|TLR2","C|MyD88","s1","1DPI|WT","1DPI|TLR2","1DPI|MyD88","s2","2DPI|WT","2DPI|TLR2","2DPI|MyD88","s3","3DPI|WT","3DPI|TLR2","3DPI|MyD88"],"paddingInner":0.06,"paddingOuter":0.4}},
   "y":{"field":"y","type":"quantitative","title":null,"scale":{"domain":[0,2500],"nice":false}},
   "text":{"field":"l"},"color":{"condition":{"test":"datum.l=='ns'","value":"#888888"},"value":"black"}}},
  {"mark":{"type":"text","baseline":"bottom","dy":-1,"fontSize":11,"fontWeight":"bold","opacity":0.99},"encoding":{
   "x":{"field":"rx","type":"nominal","title":null,"scale":{"domain":["C|WT","C|TLR2","C|MyD88","s1","1DPI|WT","1DPI|TLR2","1DPI|MyD88","s2","2DPI|WT","2DPI|TLR2","2DPI|MyD88","s3","3DPI|WT","3DPI|TLR2","3DPI|MyD88"],"paddingInner":0.06,"paddingOuter":0.4}},
   "y":{"field":"y","type":"quantitative","title":null,"scale":{"domain":[0,2500],"nice":false}},
   "text":{"field":"r"},"color":{"condition":{"test":"datum.r=='ns'","value":"#888888"},"value":"black"}}}
 ]},
 {"data":{"values":[{"n":"MIP-2"}]},"mark":{"type":"text","align":"left","baseline":"top","fontSize":16,"fontWeight":"bold","dx":-6},"encoding":{
   "x":{"datum":"C|WT","type":"nominal","title":null,"scale":{"domain":["C|WT","C|TLR2","C|MyD88","s1","1DPI|WT","1DPI|TLR2","1DPI|MyD88","s2","2DPI|WT","2DPI|TLR2","2DPI|MyD88","s3","3DPI|WT","3DPI|TLR2","3DPI|MyD88"],"paddingInner":0.06,"paddingOuter":0.4}},
   "y":{"datum":2500,"type":"quantitative","title":null,"scale":{"domain":[0,2500],"nice":false}},
   "text":{"field":"n"}}}
]},
{"width":200,"height":120,"layer":[
 {"data":{"name":"bars"},"transform":[{"filter":"datum.p=='KC'"}],"layer":[
  {"mark":{"type":"bar","stroke":"black","strokeWidth":1},"encoding":{
   "x":{"field":"k","type":"nominal","title":null,"scale":{"domain":["C|WT","C|TLR2","C|MyD88","s1","1DPI|WT","1DPI|TLR2","1DPI|MyD88","s2","2DPI|WT","2DPI|TLR2","2DPI|MyD88","s3","3DPI|WT","3DPI|TLR2","3DPI|MyD88"],"paddingInner":0.06,"paddingOuter":0.4},"axis":{"values":["C|TLR2","1DPI|TLR2","2DPI|TLR2","3DPI|TLR2"],"labelExpr":"split(datum.value,'|')[0]"}},
   "y":{"field":"v","type":"quantitative","title":null,"scale":{"domain":[0,1000],"nice":false},"axis":{"values":[0,200,400,600,800,1000],"tickCount":20,"format":"d","labelOverlap":false}},
   "fill":{"field":"g","type":"nominal","scale":{"domain":["WT","TLR2","MyD88"],"range":["#ffffff","#b8b8b8","#555555"]}}}},
  {"mark":{"type":"rule","color":"black","strokeWidth":1},"encoding":{
   "x":{"field":"k","type":"nominal","title":null,"scale":{"domain":["C|WT","C|TLR2","C|MyD88","s1","1DPI|WT","1DPI|TLR2","1DPI|MyD88","s2","2DPI|WT","2DPI|TLR2","2DPI|MyD88","s3","3DPI|WT","3DPI|TLR2","3DPI|MyD88"],"paddingInner":0.06,"paddingOuter":0.4}},
   "y":{"field":"v","type":"quantitative","title":null,"scale":{"domain":[0,1000],"nice":false}},"y2":{"field":"hi"}}},
  {"mark":{"type":"tick","color":"black","size":6,"thickness":1,"orient":"horizontal"},"encoding":{
   "x":{"field":"k","type":"nominal","title":null,"scale":{"domain":["C|WT","C|TLR2","C|MyD88","s1","1DPI|WT","1DPI|TLR2","1DPI|MyD88","s2","2DPI|WT","2DPI|TLR2","2DPI|MyD88","s3","3DPI|WT","3DPI|TLR2","3DPI|MyD88"],"paddingInner":0.06,"paddingOuter":0.4}},
   "y":{"field":"hi","type":"quantitative","title":null,"scale":{"domain":[0,1000],"nice":false}}}},
  {"transform":[{"filter":"datum.s!=''"}],"mark":{"type":"text","baseline":"bottom","dy":-1,"fontSize":9,"fontWeight":"bold","opacity":0.99},"encoding":{
   "x":{"field":"k","type":"nominal","title":null,"scale":{"domain":["C|WT","C|TLR2","C|MyD88","s1","1DPI|WT","1DPI|TLR2","1DPI|MyD88","s2","2DPI|WT","2DPI|TLR2","2DPI|MyD88","s3","3DPI|WT","3DPI|TLR2","3DPI|MyD88"],"paddingInner":0.06,"paddingOuter":0.4}},
   "y":{"field":"hi","type":"quantitative","title":null,"scale":{"domain":[0,1000],"nice":false}},
   "text":{"field":"s"},"color":{"condition":{"test":"indexof(datum.s,'#')>=0","value":"#808080"},"value":"black"}}}
 ]},
 {"data":{"name":"brk"},"transform":[{"filter":"datum.p=='KC'"}],"layer":[
  {"mark":{"type":"rule","color":"black","strokeWidth":1.2},"encoding":{
   "x":{"field":"a","type":"nominal","title":null,"scale":{"domain":["C|WT","C|TLR2","C|MyD88","s1","1DPI|WT","1DPI|TLR2","1DPI|MyD88","s2","2DPI|WT","2DPI|TLR2","2DPI|MyD88","s3","3DPI|WT","3DPI|TLR2","3DPI|MyD88"],"paddingInner":0.06,"paddingOuter":0.4}},"x2":{"field":"b"},
   "y":{"field":"y","type":"quantitative","title":null,"scale":{"domain":[0,1000],"nice":false}}}},
  {"transform":[{"fold":["a","m","b"]}],"mark":{"type":"tick","color":"black","orient":"vertical","size":6,"thickness":1.2,"yOffset":3},"encoding":{
   "x":{"field":"value","type":"nominal","title":null,"scale":{"domain":["C|WT","C|TLR2","C|MyD88","s1","1DPI|WT","1DPI|TLR2","1DPI|MyD88","s2","2DPI|WT","2DPI|TLR2","2DPI|MyD88","s3","3DPI|WT","3DPI|TLR2","3DPI|MyD88"],"paddingInner":0.06,"paddingOuter":0.4}},
   "y":{"field":"y","type":"quantitative","title":null,"scale":{"domain":[0,1000],"nice":false}}}},
  {"mark":{"type":"text","baseline":"bottom","dy":-1,"fontSize":11,"fontWeight":"bold","opacity":0.99},"encoding":{
   "x":{"field":"lx","type":"nominal","title":null,"scale":{"domain":["C|WT","C|TLR2","C|MyD88","s1","1DPI|WT","1DPI|TLR2","1DPI|MyD88","s2","2DPI|WT","2DPI|TLR2","2DPI|MyD88","s3","3DPI|WT","3DPI|TLR2","3DPI|MyD88"],"paddingInner":0.06,"paddingOuter":0.4}},
   "y":{"field":"y","type":"quantitative","title":null,"scale":{"domain":[0,1000],"nice":false}},
   "text":{"field":"l"},"color":{"condition":{"test":"datum.l=='ns'","value":"#888888"},"value":"black"}}},
  {"mark":{"type":"text","baseline":"bottom","dy":-1,"fontSize":11,"fontWeight":"bold","opacity":0.99},"encoding":{
   "x":{"field":"rx","type":"nominal","title":null,"scale":{"domain":["C|WT","C|TLR2","C|MyD88","s1","1DPI|WT","1DPI|TLR2","1DPI|MyD88","s2","2DPI|WT","2DPI|TLR2","2DPI|MyD88","s3","3DPI|WT","3DPI|TLR2","3DPI|MyD88"],"paddingInner":0.06,"paddingOuter":0.4}},
   "y":{"field":"y","type":"quantitative","title":null,"scale":{"domain":[0,1000],"nice":false}},
   "text":{"field":"r"},"color":{"condition":{"test":"datum.r=='ns'","value":"#888888"},"value":"black"}}}
 ]},
 {"data":{"values":[{"n":"KC"}]},"mark":{"type":"text","align":"left","baseline":"top","fontSize":16,"fontWeight":"bold","dx":-6},"encoding":{
   "x":{"datum":"C|WT","type":"nominal","title":null,"scale":{"domain":["C|WT","C|TLR2","C|MyD88","s1","1DPI|WT","1DPI|TLR2","1DPI|MyD88","s2","2DPI|WT","2DPI|TLR2","2DPI|MyD88","s3","3DPI|WT","3DPI|TLR2","3DPI|MyD88"],"paddingInner":0.06,"paddingOuter":0.4}},
   "y":{"datum":1000,"type":"quantitative","title":null,"scale":{"domain":[0,1000],"nice":false}},
   "text":{"field":"n"}}}
]},
{"width":188,"height":120,"layer":[
 {"data":{"name":"bars"},"transform":[{"filter":"datum.p=='IL-10'"}],"layer":[
  {"mark":{"type":"bar","stroke":"black","strokeWidth":1},"encoding":{
   "x":{"field":"k","type":"nominal","title":null,"scale":{"domain":["C|WT","C|TLR2","C|MyD88","s1","1DPI|WT","1DPI|TLR2","1DPI|MyD88","s2","2DPI|WT","2DPI|TLR2","2DPI|MyD88","s3","3DPI|WT","3DPI|TLR2","3DPI|MyD88"],"paddingInner":0.06,"paddingOuter":0.4},"axis":{"values":["C|TLR2","1DPI|TLR2","2DPI|TLR2","3DPI|TLR2"],"labelExpr":"split(datum.value,'|')[0]"}},
   "y":{"field":"v","type":"quantitative","title":null,"scale":{"domain":[0,400],"nice":false},"axis":{"values":[0,100,200,300,400],"tickCount":20,"labelOverlap":false}},
   "fill":{"field":"g","type":"nominal","scale":{"domain":["WT","TLR2","MyD88"],"range":["#ffffff","#b8b8b8","#555555"]}}}},
  {"mark":{"type":"rule","color":"black","strokeWidth":1},"encoding":{
   "x":{"field":"k","type":"nominal","title":null,"scale":{"domain":["C|WT","C|TLR2","C|MyD88","s1","1DPI|WT","1DPI|TLR2","1DPI|MyD88","s2","2DPI|WT","2DPI|TLR2","2DPI|MyD88","s3","3DPI|WT","3DPI|TLR2","3DPI|MyD88"],"paddingInner":0.06,"paddingOuter":0.4}},
   "y":{"field":"v","type":"quantitative","title":null,"scale":{"domain":[0,400],"nice":false}},"y2":{"field":"hi"}}},
  {"mark":{"type":"tick","color":"black","size":6,"thickness":1,"orient":"horizontal"},"encoding":{
   "x":{"field":"k","type":"nominal","title":null,"scale":{"domain":["C|WT","C|TLR2","C|MyD88","s1","1DPI|WT","1DPI|TLR2","1DPI|MyD88","s2","2DPI|WT","2DPI|TLR2","2DPI|MyD88","s3","3DPI|WT","3DPI|TLR2","3DPI|MyD88"],"paddingInner":0.06,"paddingOuter":0.4}},
   "y":{"field":"hi","type":"quantitative","title":null,"scale":{"domain":[0,400],"nice":false}}}},
  {"transform":[{"filter":"datum.s!=''"}],"mark":{"type":"text","baseline":"bottom","dy":-1,"fontSize":9,"fontWeight":"bold","opacity":0.99},"encoding":{
   "x":{"field":"k","type":"nominal","title":null,"scale":{"domain":["C|WT","C|TLR2","C|MyD88","s1","1DPI|WT","1DPI|TLR2","1DPI|MyD88","s2","2DPI|WT","2DPI|TLR2","2DPI|MyD88","s3","3DPI|WT","3DPI|TLR2","3DPI|MyD88"],"paddingInner":0.06,"paddingOuter":0.4}},
   "y":{"field":"hi","type":"quantitative","title":null,"scale":{"domain":[0,400],"nice":false}},
   "text":{"field":"s"},"color":{"condition":{"test":"indexof(datum.s,'#')>=0","value":"#808080"},"value":"black"}}}
 ]},
 {"data":{"name":"brk"},"transform":[{"filter":"datum.p=='IL-10'"}],"layer":[
  {"mark":{"type":"rule","color":"black","strokeWidth":1.2},"encoding":{
   "x":{"field":"a","type":"nominal","title":null,"scale":{"domain":["C|WT","C|TLR2","C|MyD88","s1","1DPI|WT","1DPI|TLR2","1DPI|MyD88","s2","2DPI|WT","2DPI|TLR2","2DPI|MyD88","s3","3DPI|WT","3DPI|TLR2","3DPI|MyD88"],"paddingInner":0.06,"paddingOuter":0.4}},"x2":{"field":"b"},
   "y":{"field":"y","type":"quantitative","title":null,"scale":{"domain":[0,400],"nice":false}}}},
  {"transform":[{"fold":["a","m","b"]}],"mark":{"type":"tick","color":"black","orient":"vertical","size":6,"thickness":1.2,"yOffset":3},"encoding":{
   "x":{"field":"value","type":"nominal","title":null,"scale":{"domain":["C|WT","C|TLR2","C|MyD88","s1","1DPI|WT","1DPI|TLR2","1DPI|MyD88","s2","2DPI|WT","2DPI|TLR2","2DPI|MyD88","s3","3DPI|WT","3DPI|TLR2","3DPI|MyD88"],"paddingInner":0.06,"paddingOuter":0.4}},
   "y":{"field":"y","type":"quantitative","title":null,"scale":{"domain":[0,400],"nice":false}}}},
  {"mark":{"type":"text","baseline":"bottom","dy":-1,"fontSize":11,"fontWeight":"bold","opacity":0.99},"encoding":{
   "x":{"field":"lx","type":"nominal","title":null,"scale":{"domain":["C|WT","C|TLR2","C|MyD88","s1","1DPI|WT","1DPI|TLR2","1DPI|MyD88","s2","2DPI|WT","2DPI|TLR2","2DPI|MyD88","s3","3DPI|WT","3DPI|TLR2","3DPI|MyD88"],"paddingInner":0.06,"paddingOuter":0.4}},
   "y":{"field":"y","type":"quantitative","title":null,"scale":{"domain":[0,400],"nice":false}},
   "text":{"field":"l"},"color":{"condition":{"test":"datum.l=='ns'","value":"#888888"},"value":"black"}}},
  {"mark":{"type":"text","baseline":"bottom","dy":-1,"fontSize":11,"fontWeight":"bold","opacity":0.99},"encoding":{
   "x":{"field":"rx","type":"nominal","title":null,"scale":{"domain":["C|WT","C|TLR2","C|MyD88","s1","1DPI|WT","1DPI|TLR2","1DPI|MyD88","s2","2DPI|WT","2DPI|TLR2","2DPI|MyD88","s3","3DPI|WT","3DPI|TLR2","3DPI|MyD88"],"paddingInner":0.06,"paddingOuter":0.4}},
   "y":{"field":"y","type":"quantitative","title":null,"scale":{"domain":[0,400],"nice":false}},
   "text":{"field":"r"},"color":{"condition":{"test":"datum.r=='ns'","value":"#888888"},"value":"black"}}}
 ]},
 {"data":{"values":[{"n":"IL-10"}]},"mark":{"type":"text","align":"left","baseline":"top","fontSize":16,"fontWeight":"bold","dx":-6},"encoding":{
   "x":{"datum":"C|WT","type":"nominal","title":null,"scale":{"domain":["C|WT","C|TLR2","C|MyD88","s1","1DPI|WT","1DPI|TLR2","1DPI|MyD88","s2","2DPI|WT","2DPI|TLR2","2DPI|MyD88","s3","3DPI|WT","3DPI|TLR2","3DPI|MyD88"],"paddingInner":0.06,"paddingOuter":0.4}},
   "y":{"datum":400,"type":"quantitative","title":null,"scale":{"domain":[0,400],"nice":false}},
   "text":{"field":"n"}}}
]}
]
}
]
}
]
}
